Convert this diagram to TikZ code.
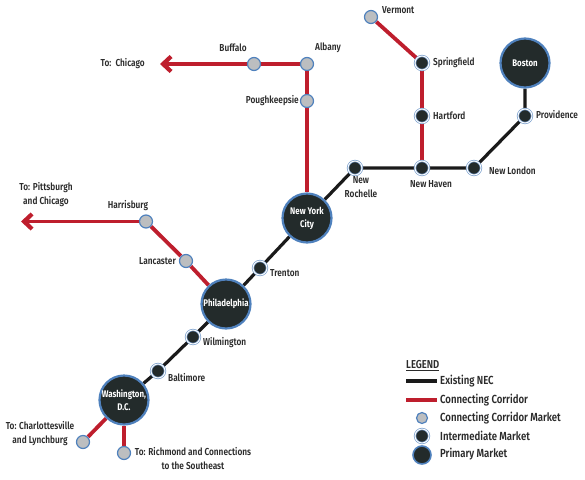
\documentclass[tikz,border=0pt]{standalone}
\usepackage{fontspec}
\setmainfont{Fira Sans}[FakeStretch=0.82,UprightFont=* SemiBold,BoldFont=* Bold]
\usetikzlibrary{arrows.meta}
\pgfdeclarelayer{lines}\pgfsetlayers{lines,main}
\definecolor{nec}{HTML}{1A1A1A}
\definecolor{corr}{HTML}{BE1E2D}
\definecolor{ring}{HTML}{4F81BD}
\definecolor{dark}{HTML}{232B2B}
\definecolor{mkt}{HTML}{BCBEC0}
\definecolor{lab}{HTML}{2B2B2B}
\tikzset{
 x=1pt,y=-1pt,
 necline/.style={draw=nec,line width=3.2pt},
 corrline/.style={draw=corr,line width=3.8pt},
 corrarrow/.style={corrline,-{Straight Barb[length=8pt,width=15pt,line width=4.2pt]}},
 ccm/.style={circle,draw=ring,fill=mkt,line width=1.2pt,minimum size=13pt,inner sep=0pt},
 imk/.style={circle,draw=ring!75,fill=dark,line width=.7pt,double=white,double distance=.9pt,minimum size=14pt,inner sep=0pt},
 pmk/.style={circle,draw=ring,fill=dark,line width=2.2pt,minimum size=49pt,inner sep=0pt,text=white,font=\fontsize{9.6}{13}\selectfont\bfseries,align=center},
 lbl/.style={inner sep=0pt,text=lab,font=\fontsize{10.1}{14}\selectfont,align=center},
 leg/.style={lbl,anchor=west,font=\fontsize{11.7}{14}\selectfont},
}
\begin{document}
\begin{tikzpicture}
\useasboundingbox (0,0) rectangle (585,479);
% nodes
\node[pmk] (bos) at (525,63) {Boston};
\node[pmk] (nyc) at (307,218) {New York\\City};
\node[pmk] (phl) at (226,304) {Philadelphia};
\node[pmk] (was) at (124,400) {Washington,\\D.C.};
\node[imk] (pvd) at (525,116) {};
\node[imk] (nlo) at (474,168) {};
\node[imk] (nhv) at (422,168) {};
\node[imk] (har) at (422,116) {};
\node[imk] (spg) at (422,63) {};
\node[imk] (nro) at (355,168) {};
\node[imk] (tre) at (260,268) {};
\node[imk] (wil) at (193,337) {};
\node[imk] (bal) at (158,371) {};
\node[ccm] (ver) at (371,17) {};
\node[ccm] (alb) at (307,64) {};
\node[ccm] (pok) at (307,101) {};
\node[ccm] (buf) at (254,64) {};
\node[ccm] (hbg) at (146,221.5) {};
\node[ccm] (lan) at (186,261) {};
\node[ccm] (cha) at (83,442) {};
\node[ccm] (ric) at (124,453) {};
\coordinate (chi) at (160,64);
\coordinate (pit) at (21,221.5);
% connectors
\begin{pgfonlayer}{lines}
\draw[necline] (bos) -- (pvd) -- (nlo) -- (nhv) -- (nro) -- (nyc) -- (tre) -- (phl) -- (wil) -- (bal) -- (was);
\draw[corrline] (ver) -- (spg) -- (har) -- (nhv);
\draw[corrline] (nyc) -- (pok) -- (alb) -- (buf);
\draw[corrarrow] (buf) -- (chi);
\draw[corrarrow] (hbg) -- (pit);
\draw[corrline] (hbg) -- (lan) -- (phl);
\draw[corrline] (was) -- (cha);
\draw[corrline] (was) -- (ric);
\end{pgfonlayer}
% labels
\node[lbl,anchor=west] (t1) at (382,10) {Vermont};
\node[lbl,anchor=west] (t2) at (433,63) {Springfield};
\node[lbl,anchor=west] (t3) at (433,116) {Hartford};
\node[lbl,anchor=west] (t4) at (536,115) {Providence};
\node[lbl,anchor=west] (t5) at (489,171) {New London};
\node[lbl] (t6) at (431,184) {New Haven};
\node[lbl] (t7) at (361,187) {New\\Rochelle};
\node[lbl] (t8) at (233,48) {Buffalo};
\node[lbl] (t9) at (328,48) {Albany};
\node[lbl,anchor=east] (t10) at (299,101) {Poughkeepsie};
\node[lbl,anchor=east] (t11) at (145,64) {To:\ \ Chicago};
\node[lbl] (t12) at (46,195) {To: Pittsburgh\\and Chicago};
\node[lbl] (t13) at (128,206) {Harrisburg};
\node[lbl,anchor=east] (t14) at (176,261) {Lancaster};
\node[lbl,anchor=west] (t15) at (270,273) {Trenton};
\node[lbl,anchor=west] (t16) at (203,343) {Wilmington};
\node[lbl,anchor=west] (t17) at (168,378) {Baltimore};
\node[lbl] (t18) at (40,434) {To: Charlottesville\\and Lynchburg};
\node[lbl] (t19) at (193,459) {To: Richmond and Connections\\to the Southeast};
% legend
\node[lbl,anchor=west,font=\fontsize{11.5}{14}\selectfont] (lt) at (406,366) {\underline{LEGEND}};
\coordinate (l1a) at (406,381); \coordinate (l1b) at (437,381);
\coordinate (l2a) at (406,400); \coordinate (l2b) at (437,400);
\draw[necline] (l1a) -- (l1b);
\draw[corrline] (l2a) -- (l2b);
\node[ccm,minimum size=11pt] (lc) at (422,418) {};
\node[imk] (li) at (422,436) {};
\node[pmk,minimum size=18pt,line width=1.6pt] (lp) at (422,455) {};
\node[leg] (e1) at (440,381) {Existing NEC};
\node[leg] (e2) at (440,400) {Connecting Corridor};
\node[leg] (e3) at (440,418) {Connecting Corridor Market};
\node[leg] (e4) at (440,436) {Intermediate Market};
\node[leg] (e5) at (440,454) {Primary Market};
\end{tikzpicture}
\end{document}
